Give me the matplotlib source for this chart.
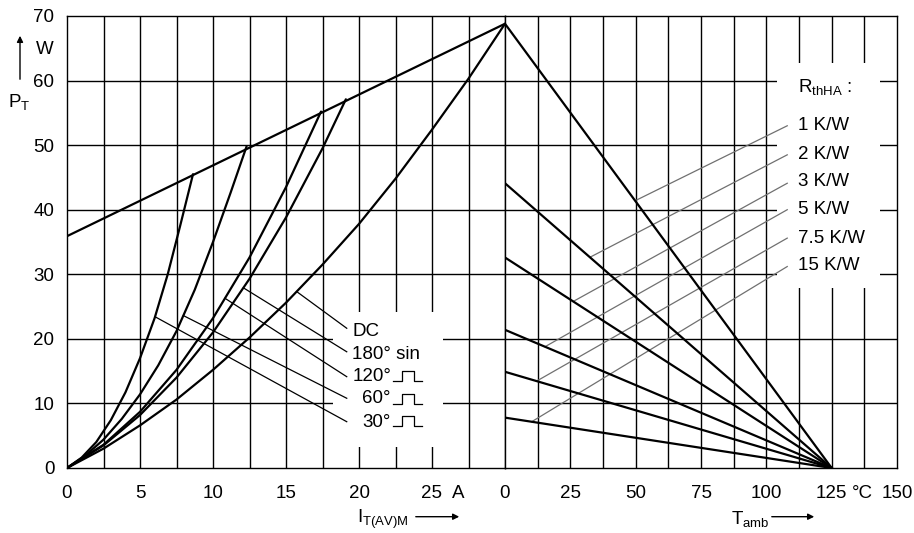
import matplotlib
matplotlib.use('Agg')
import matplotlib.pyplot as plt
import numpy as np
from matplotlib.patches import Rectangle, FancyArrowPatch

# ---------------- data ----------------
# Left panel: P_T [W] versus I_T(AV)M [A]
I_dc = [0, 2.5, 5, 7.5, 10, 12.5, 15, 17.5, 20, 22.5, 25, 27.5, 30]
P_dc = [0, 3.0, 6.6, 10.6, 15.2, 20.2, 25.6, 31.5, 37.8, 44.8, 52.4, 60.3, 68.8]

I_180 = [0, 2.5, 5, 7.5, 10, 12.5, 15, 17.5, 19.1]
P_180 = [0, 3.5, 8.2, 14.0, 21.0, 29.3, 38.8, 49.5, 57.1]

I_120 = [0, 2.5, 5, 7.5, 10, 12.5, 15, 17.4]
P_120 = [0, 3.6, 8.7, 15.2, 23.2, 32.6, 43.5, 55.2]

I_60 = [0, 1.25, 2.5, 3.75, 5, 6.25, 7.5, 8.75, 10, 11.2, 12.3]
P_60 = [0, 1.9, 4.4, 7.6, 11.4, 15.9, 21.2, 27.6, 35.0, 42.6, 49.8]

I_30 = [0, 1, 2, 3, 4, 5, 6, 6.9, 7.75, 8.63]
P_30 = [0, 1.6, 4.0, 7.4, 11.7, 17.0, 23.2, 30.0, 37.5, 45.5]

I_env = [0, 30]
P_env = [35.9, 68.8]

curve_labels = ['DC', '180° sin', '120°', '60°', '30°']

# Right panel: P [W] versus T_amb [°C], straight lines to (125 °C, 0 W)
T_zero = 125
P_at_0C = [68.8, 44.1, 32.6, 21.4, 14.9, 7.8]
rth_labels = ['1 K/W', '2 K/W', '3 K/W', '5 K/W', '7.5 K/W', '15 K/W']

xticks_left = [0, 5, 10, 15, 20, 25]
xticks_right = [0, 25, 50, 75, 100, 125, 150]
yticks = [0, 10, 20, 30, 40, 50, 60, 70]

# ---------------- styling ----------------
plt.rcParams['font.family'] = ['Liberation Sans', 'DejaVu Sans']
plt.rcParams['mathtext.fontset'] = 'custom'
plt.rcParams['mathtext.rm'] = 'Liberation Sans'
plt.rcParams['mathtext.it'] = 'Liberation Sans:italic'

W, H = 914, 533
FS = 13.5
fig = plt.figure(figsize=(W / 100, H / 100), dpi=100)


def fx(px):
    return px / W


def fy(py):
    return 1 - py / H


x0, x1, x2 = 67, 505, 897
ytop, ybot = 16, 468
axL = fig.add_axes([fx(x0), fy(ybot), (x1 - x0) / W, (ybot - ytop) / H])
axR = fig.add_axes([fx(x1), fy(ybot), (x2 - x1) / W, (ybot - ytop) / H])

GRID_LW = 1.0
CURVE_LW = 1.6

# Left axes
axL.set_xlim(0, 30)
axL.set_ylim(0, 70)
for v in np.arange(2.5, 30, 2.5):
    axL.axvline(v, color='black', lw=GRID_LW, zorder=0.5)
for v in range(10, 70, 10):
    axL.axhline(v, color='black', lw=GRID_LW, zorder=0.5)
axL.set_xticks(xticks_left)
axL.set_xticklabels([str(t) for t in xticks_left])
axL.set_yticks(yticks)
axL.set_yticklabels([str(t) for t in yticks])
axL.tick_params(length=0, labelsize=FS, pad=9)
axL.tick_params(axis='x', pad=12)

# Right axes
axR.set_xlim(0, 150)
axR.set_ylim(0, 70)
for v in np.arange(12.5, 150, 12.5):
    axR.axvline(v, color='black', lw=GRID_LW, zorder=0.5)
for v in range(10, 70, 10):
    axR.axhline(v, color='black', lw=GRID_LW, zorder=0.5)
axR.set_xticks(xticks_right)
axR.set_xticklabels([str(t) for t in xticks_right])
axR.set_yticks([])
axR.tick_params(length=0, labelsize=FS, pad=12)

for ax in (axL, axR):
    for s in ax.spines.values():
        s.set_linewidth(1.0)
        s.set_color('black')

# white masks behind the label blocks
axL.add_patch(Rectangle((18.2, 3.25), 25.75 - 18.2, 24.2 - 3.25,
                        facecolor='white', edgecolor='none', zorder=1))
axR.add_patch(Rectangle((104.1, 27.9), 143.5 - 104.1, 62.7 - 27.9,
                        facecolor='white', edgecolor='none', zorder=1))

# ---- left curves
curves = [(I_dc, P_dc), (I_180, P_180), (I_120, P_120), (I_60, P_60), (I_30, P_30)]
for I, P in curves:
    axL.plot(I, P, color='black', lw=CURVE_LW, zorder=3,
             solid_capstyle='round', solid_joinstyle='round')
axL.plot(I_env, P_env, color='black', lw=CURVE_LW, zorder=3)

# leader lines (anchor current on each curve -> label)
anchor_I = [15.73, 12.08, 10.82, 7.97, 6.03]
label_y = [21.2, 17.65, 14.1, 10.7, 7.0]
label_x = [19.55, 19.55, 19.55, 20.2, 20.2]
lead_end_y = [21.64, 18.0, 14.14, 10.8, 7.17]
for (I, P), ai, ly, lx, ey, txt in zip(curves, anchor_I, label_y, label_x, lead_end_y, curve_labels):
    ap = np.interp(ai, I, P)
    axL.plot([ai, 19.16], [ap, ey], color='black', lw=0.9, zorder=2.5)
    axL.text(lx, ly, txt, fontsize=FS, va='center', ha='left', zorder=4)

# rectangular pulse symbols after 120°, 60°, 30°
pulse_low = [13.5, 9.9, 6.55]
for lo in pulse_low:
    hi = lo + 1.55
    xs = [22.35, 22.95, 22.95, 23.75, 23.75, 24.3]
    ys = [lo, lo, hi, hi, lo, lo]
    axL.plot(xs, ys, color='black', lw=0.9, zorder=4)

# ---- right lines
for p0 in P_at_0C:
    axR.plot([0, T_zero], [p0, 0], color='black', lw=CURVE_LW, zorder=3)

lead_T = [49.8, 32.5, 26.1, 15.3, 12.1, 10.2]
lead_start_P = [53.0, 48.5, 44.1, 40.0, 35.6, 31.2]
rth_y = [53.0, 48.6, 44.3, 40.0, 35.6, 31.3]
for p0, t, sp, ly, txt in zip(P_at_0C, lead_T, lead_start_P, rth_y, rth_labels):
    pe = np.interp(t, [0, T_zero], [p0, 0])
    axR.plot([108.0, t], [sp, pe], color='#707070', lw=0.9, zorder=2.5)
    axR.text(112.2, ly, txt, fontsize=FS, va='center', ha='left', zorder=4)
axR.text(112.2, 59.0, r'$\mathrm{R}_{\mathrm{thHA}}$ :', fontsize=FS,
         va='center', ha='left', zorder=4)

# units next to tick labels (same baseline as tick labels)
ypad = -(12 * 100 / 72) / 6.457
axL.text(26.8, ypad, 'A', fontsize=FS, ha='center', va='top')
axR.text(136.7, ypad, '°C', fontsize=FS, ha='center', va='top')

# axis titles with arrows (figure pixel coordinates)
fig.text(fx(44.5), fy(50), 'W', fontsize=FS, ha='center', va='center')
fig.text(fx(8), fy(102), r'$\mathrm{P}_{\mathrm{T}}$', fontsize=FS, ha='left', va='center')
fig.add_artist(FancyArrowPatch(
    (fx(20), fy(82)), (fx(20), fy(33)), transform=fig.transFigure,
    arrowstyle='-|>', mutation_scale=9, color='black', lw=1.0))

fig.text(fx(357), fy(519), r'$\mathrm{I}_{\mathrm{T(AV)M}}$', fontsize=FS, ha='left', va='center')
fig.add_artist(FancyArrowPatch(
    (fx(413), fy(516.7)), (fx(462), fy(516.7)), transform=fig.transFigure,
    arrowstyle='-|>', mutation_scale=9, color='black', lw=1.0))

fig.text(fx(731), fy(519), r'$\mathrm{T}_{\mathrm{amb}}$', fontsize=FS, ha='left', va='center')
fig.add_artist(FancyArrowPatch(
    (fx(769), fy(516.7)), (fx(817), fy(516.7)), transform=fig.transFigure,
    arrowstyle='-|>', mutation_scale=9, color='black', lw=1.0))

fig.savefig('out.png', dpi=100)
